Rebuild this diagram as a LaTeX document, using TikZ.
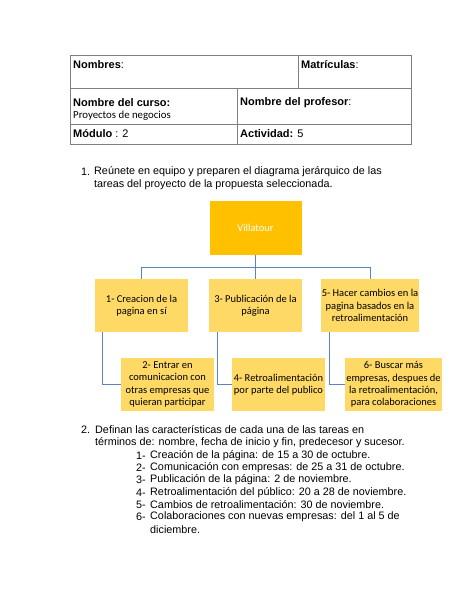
\documentclass[tikz,border=0pt]{standalone}
\usepackage{fontspec}
\setmainfont{Liberation Sans}
\newfontfamily\boxfont{Carlito}
\usetikzlibrary{positioning,calc}
\definecolor{gold}{HTML}{FFC000}
\definecolor{lightgold}{HTML}{FFD966}
\definecolor{linkblue}{HTML}{5B83BE}
\definecolor{tablegray}{HTML}{7F7F7F}
\tikzset{
  txt/.style={anchor=west,inner sep=0pt,font=\fontsize{10.8}{12}\selectfont},
  tabtxt/.style={anchor=west,inner sep=0pt,font=\fontsize{11}{12}\selectfont},
  smalltxt/.style={anchor=west,inner sep=0pt,font=\boxfont\fontsize{10.8}{12}\selectfont},
  topbox/.style={fill=gold,minimum width=92pt,minimum height=54pt,inner sep=1pt,
    text=white,font=\boxfont\fontsize{10.5}{12.5}\selectfont,align=center},
  levbox/.style={fill=lightgold,minimum width=93pt,minimum height=53pt,inner sep=1pt,
    align=center,font=\boxfont\fontsize{10.5}{12.4}\selectfont},
  link/.style={draw=linkblue,line width=0.9pt},
  tabline/.style={draw=tablegray,line width=0.9pt}
}
\begin{document}
\begin{tikzpicture}[x=1pt,y=-1pt]
\useasboundingbox (0,0) rectangle (474,613);
\fill[white] (0,0) rectangle (474,613);
% table
\draw[tabline] (70,55) rectangle (411,144);
\draw[tabline] (70,88) -- (411,88);
\draw[tabline] (70,124) -- (411,124);
\draw[tabline] (298,55) -- (298,88);
\draw[tabline] (237,88) -- (237,144);
\node[tabtxt] (t1) at (73,65) {\textbf{Nombres}:};
\node[tabtxt] (t2) at (301,65) {\textbf{Matrículas}:};
\node[tabtxt] (t3) at (73,103) {\textbf{Nombre del curso:}};
\node[smalltxt] (t4) at (73,116) {Proyectos de negocios};
\node[tabtxt] (t5) at (240,103) {\textbf{Nombre del profesor}:};
\node[tabtxt] (t6) at (73,134) {\textbf{Módulo} : 2};
\node[tabtxt] (t7) at (240,134) {\textbf{Actividad:} 5};
% item 1
\node[txt] (n1) at (81,172) {1.};
\node[txt] (p1a) at (94,172) {Reúnete en equipo y preparen el diagrama jerárquico de las};
\node[txt] (p1b) at (94,185) {tareas del proyecto de la propuesta seleccionada.};
% diagram
\node[topbox] (v) at (255.5,228) {Villatour};
\node[levbox] (b1) at (141.5,305.5) {1- Creacion de la\\pagina en sí};
\node[levbox] (b2) at (255.5,305.5) {3- Publicación de la\\página};
\node[levbox] (b3) at (370,305.5) {5- Hacer cambios en la\\pagina basados en la\\retroalimentación};
\node[levbox] (c1) at (167.5,384.5) {2- Entrar en\\comunicacion con\\otras empresas que\\quieran participar};
\node[levbox] (c2) at (278.5,384.5) {4- Retroalimentación\\por parte del publico};
\node[levbox] (c3) at (393.5,384.5) {6- Buscar más\\empresas, despues de\\la retroalimentación,\\para colaboraciones};
\coordinate (bar) at ($(v.south)+(0,12)$);
\draw[link] (v.south) -- (bar);
\draw[link] (bar) -| (b1.north);
\draw[link] (bar) -| (b3.north);
\draw[link] (bar) -- (b2.north);
\draw[link] ([xshift=8pt]b1.south west) |- (c1.west);
\draw[link] ([xshift=9pt]b2.south west) |- (c2.west);
\draw[link] ([xshift=9pt]b3.south west) |- (c3.west);
% item 2
\node[txt] (n2) at (81,430) {2.};
\node[txt] (p2a) at (95,430) {Definan las características de cada una de las tareas en};
\node[txt] (p2b) at (95,442.5) {términos de: nombre, fecha de inicio y fin, predecesor y sucesor.};
\node[txt] (l1n) at (136,455.5) {1-};
\node[txt] (l1) at (150,455.5) {Creación de la página: de 15 a 30 de octubre.};
\node[txt] (l2n) at (136,467.8) {2-};
\node[txt] (l2) at (150,467.8) {Comunicación con empresas: de 25 a 31 de octubre.};
\node[txt] (l3n) at (136,480.1) {3-};
\node[txt] (l3) at (150,480.1) {Publicación de la página: 2 de noviembre.};
\node[txt] (l4n) at (136,492.4) {4-};
\node[txt] (l4) at (150,492.4) {Retroalimentación del público: 20 a 28 de noviembre.};
\node[txt] (l5n) at (136,504.7) {5-};
\node[txt] (l5) at (150,504.7) {Cambios de retroalimentación: 30 de noviembre.};
\node[txt] (l6n) at (136,517) {6-};
\node[txt] (l6) at (150,517) {Colaboraciones con nuevas empresas: del 1 al 5 de};
\node[txt] (l6b) at (150,529.3) {diciembre.};
\end{tikzpicture}
\end{document}
